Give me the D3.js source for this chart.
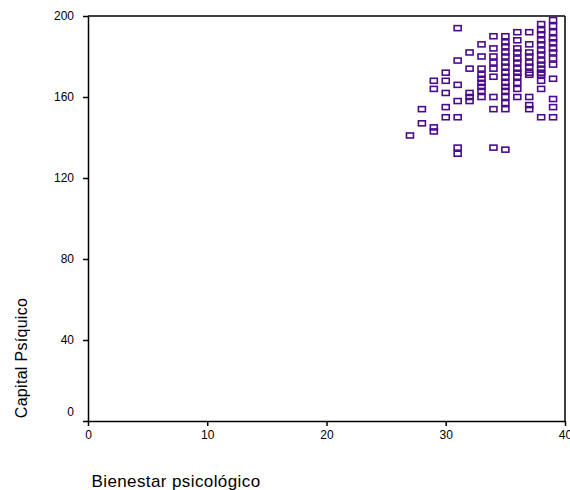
<html>
<head>
<meta charset="utf-8" />
<title>Bienestar psicológico vs Capital Psíquico</title>
<script src="https://cdn.jsdelivr.net/npm/d3@7"></script>
<style>
	body { margin: 0; background: #fff; }
	text { font-family: "Liberation Sans", Arial, sans-serif; }
	.axis path, .axis line { stroke: #000; stroke-width: 1.5; }
	.axis text { font-size: 12px; fill: #000; }
</style>
</head>
<body>
<script>

// Bienestar psicológico (x) -> Capital Psíquico (y), one list of y values per x column
var xCols = [27, 28, 29, 30, 31, 32, 33, 34, 35, 36, 37, 38, 39];
var yByCol = [
	[141],
	[154, 147],
	[168, 164, 145, 143],
	[172, 168, 162, 155, 150],
	[194, 178, 166, 158, 150, 135, 132],
	[182, 174, 162, 160, 158],
	[186, 180, 174, 171, 169, 167, 165, 163, 160],
	[190, 184, 180, 177, 174, 170, 160, 154, 135],
	[190, 187, 185, 182, 180, 177, 175, 172, 170, 167, 165, 163, 160, 157, 154, 134],
	[192, 188, 184, 182, 179, 177, 174, 172, 170, 167, 164, 160],
	[192, 186, 182, 180, 177, 175, 172, 171, 160, 156, 154],
	[196, 193, 191, 188, 186, 183, 181, 178, 176, 174, 172, 171, 168, 164, 150],
	[198, 195, 192, 189, 187, 184, 182, 179, 176, 169, 159, 155, 150]
];
var xTicks = [0, 10, 20, 30, 40];
var yTicks = [0, 40, 80, 120, 160, 200];

var points = [];
xCols.forEach(function(x, i) {
	yByCol[i].forEach(function(y) { points.push({x: x, y: y}); });
});

var W = 570, H = 490;
var margin = {top: 16, right: 4, bottom: 69, left: 88};
var width = W - margin.left - margin.right,
	height = H - margin.top - margin.bottom;

var svg = d3.select("body").append("svg")
	.attr("width", W)
	.attr("height", H);
var g = svg.append("g")
	.attr("transform", "translate(" + margin.left + "," + margin.top + ")");

var x = d3.scaleLinear().domain([0, 40]).range([0, width - 1]);
var y = d3.scaleLinear().domain([0, 200]).range([height, 0]);

// frame top / right
g.append("line").attr("x1", 0).attr("x2", x(40)).attr("y1", 0).attr("y2", 0)
	.attr("stroke", "#000").attr("stroke-width", 1.5);
g.append("line").attr("x1", x(40)).attr("x2", x(40)).attr("y1", 0).attr("y2", height)
	.attr("stroke", "#000").attr("stroke-width", 1.5);

var xAxis = g.append("g").attr("class", "axis")
	.attr("transform", "translate(0," + height + ")")
	.call(d3.axisBottom(x).tickValues(xTicks).tickSize(5).tickSizeOuter(0));
xAxis.selectAll("text").attr("dy", "0.85em");

var yAxis = g.append("g").attr("class", "axis")
	.call(d3.axisLeft(y).tickValues(yTicks).tickSize(5).tickSizeOuter(0));
yAxis.selectAll("text").attr("x", -14);
yAxis.selectAll(".tick").filter(function(d) { return d === 0; })
	.select("text").attr("dy", "-0.45em");

g.append("g").selectAll("rect")
	.data(points).enter()
	.append("rect")
	.attr("x", function(d) { return x(d.x) - 3.5; })
	.attr("y", function(d) { return y(d.y) - 2.5; })
	.attr("width", 7)
	.attr("height", 5)
	.attr("fill", "none")
	.attr("stroke", "#4b0c8c")
	.attr("stroke-width", 1.6);

svg.append("text")
	.attr("x", 176).attr("y", 487)
	.attr("text-anchor", "middle")
	.attr("font-size", "17px")
	.attr("letter-spacing", "0.4px")
	.text("Bienestar psicológico");

svg.append("text")
	.attr("transform", "translate(27,358) rotate(-90)")
	.attr("text-anchor", "middle")
	.attr("font-size", "16px")
	.attr("letter-spacing", "0.3px")
	.text("Capital Psíquico");

</script>
</body>
</html>
